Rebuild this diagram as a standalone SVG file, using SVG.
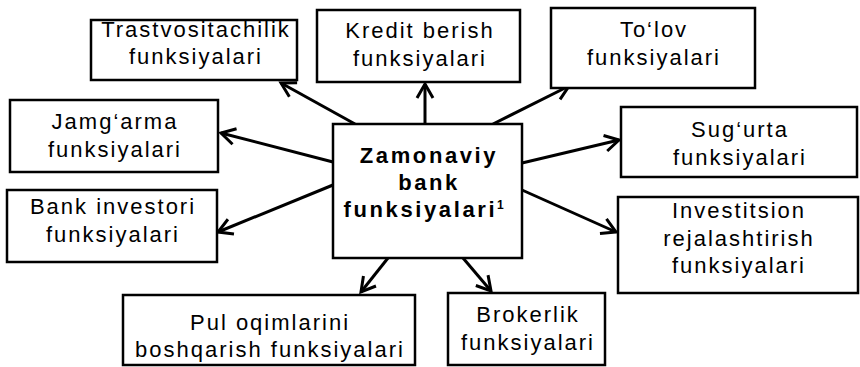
<svg xmlns="http://www.w3.org/2000/svg" width="860" height="367" viewBox="0 0 860 367">
<style>
  .box{fill:#fff;stroke:#000;stroke-width:2.5}
  .t{font-family:"Liberation Sans",Arial,sans-serif;font-size:22px;letter-spacing:2px;text-anchor:middle;fill:#000}
  .b{font-family:"Liberation Sans",Arial,sans-serif;font-size:22px;font-weight:bold;letter-spacing:2.6px;text-anchor:middle;fill:#000}
  .c line{stroke:#000;stroke-width:3;marker-end:url(#ah)}
</style>
<defs>
  <marker id="ah" markerUnits="userSpaceOnUse" markerWidth="20" markerHeight="20" refX="0" refY="0" orient="auto" overflow="visible">
    <path d="M-14,-8 L0,0 L-14,8" fill="none" stroke="#000" stroke-width="3"/>
  </marker>
</defs>
<rect width="860" height="367" fill="#fff"/>
<g id="connectors" class="c">
  <line x1="355" y1="124" x2="281" y2="83"/>
  <line x1="425" y1="124" x2="425" y2="84"/>
  <line x1="493" y1="124" x2="569" y2="86"/>
  <line x1="333" y1="162" x2="221" y2="133"/>
  <line x1="522" y1="163" x2="619" y2="140"/>
  <line x1="333" y1="185" x2="218" y2="232"/>
  <line x1="388" y1="258" x2="361" y2="292"/>
  <line x1="463" y1="258" x2="491" y2="291"/>
  <line x1="522" y1="190" x2="616" y2="232"/>
</g>
<g id="center">
  <rect class="box" x="333" y="124" width="189" height="134"/>
  <text class="b" x="429" y="163">Zamonaviy</text>
  <text class="b" x="429" y="190">bank</text>
  <text class="b" x="425" y="217">funksiyalari<tspan font-size="12" dy="-8">1</tspan></text>
</g>
<g id="trast">
  <rect class="box" x="91" y="20" width="206" height="60"/>
  <text class="t" x="196" y="37">Trastvositachilik</text>
  <text class="t" x="196" y="64">funksiyalari</text>
</g>
<g id="kredit">
  <rect class="box" x="317" y="10" width="203" height="72"/>
  <text class="t" x="420" y="38">Kredit berish</text>
  <text class="t" x="420" y="66">funksiyalari</text>
</g>
<g id="tolov">
  <rect class="box" x="551" y="8" width="204" height="80"/>
  <text class="t" x="654" y="37">To‘lov</text>
  <text class="t" x="654" y="65">funksiyalari</text>
</g>
<g id="jamgarma">
  <rect class="box" x="10" y="100" width="208" height="72"/>
  <text class="t" x="115" y="129">Jamg‘arma</text>
  <text class="t" x="115" y="157">funksiyalari</text>
</g>
<g id="sugurta">
  <rect class="box" x="621" y="107" width="236" height="70"/>
  <text class="t" x="740" y="137">Sug‘urta</text>
  <text class="t" x="740" y="165">funksiyalari</text>
</g>
<g id="investori">
  <rect class="box" x="7" y="190" width="210" height="72"/>
  <text class="t" x="113" y="214">Bank investori</text>
  <text class="t" x="113" y="242">funksiyalari</text>
</g>
<g id="pul">
  <rect class="box" x="123" y="295" width="292" height="70"/>
  <text class="t" x="270" y="330">Pul oqimlarini</text>
  <text class="t" x="270" y="357">boshqarish funksiyalari</text>
</g>
<g id="brokerlik">
  <rect class="box" x="448" y="293" width="157" height="72"/>
  <text class="t" x="528" y="322">Brokerlik</text>
  <text class="t" x="528" y="350">funksiyalari</text>
</g>
<g id="investitsion">
  <rect class="box" x="618" y="197" width="240" height="96"/>
  <text class="t" x="739" y="218">Investitsion</text>
  <text class="t" x="739" y="246">rejalashtirish</text>
  <text class="t" x="739" y="273">funksiyalari</text>
</g>
</svg>
